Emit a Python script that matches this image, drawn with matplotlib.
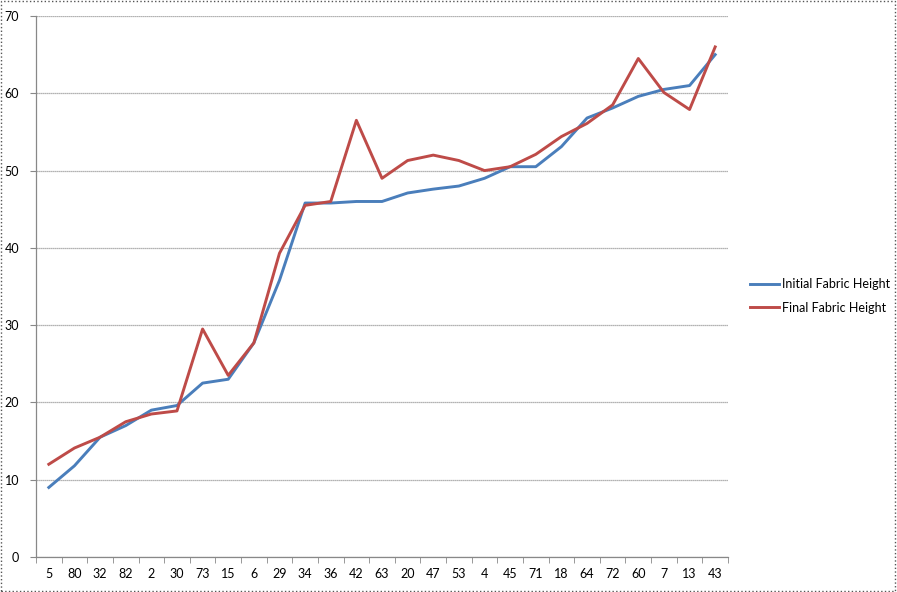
import matplotlib
matplotlib.use('Agg')
import matplotlib.pyplot as plt
from matplotlib.patches import Rectangle

labels = ['5', '80', '32', '82', '2', '30', '73', '15', '6', '29', '34', '36', '42', '63',
          '20', '47', '53', '4', '45', '71', '18', '64', '72', '60', '7', '13', '43']
initial = [9, 11.8, 15.5, 17, 19, 19.6, 22.5, 23, 27.7, 35.8, 45.8, 45.8, 46, 46,
           47.1, 47.6, 48, 49, 50.5, 50.5, 53.1, 56.8, 58.1, 59.6, 60.5, 61, 65]
final = [12, 14.1, 15.5, 17.5, 18.5, 18.9, 29.5, 23.5, 27.7, 39.3, 45.5, 46, 56.5, 49,
         51.3, 52, 51.3, 50, 50.5, 52.1, 54.4, 56.1, 58.5, 64.5, 60.1, 57.9, 66]

plt.rcParams['font.family'] = ['Lato', 'DejaVu Sans']
plt.rcParams['font.size'] = 9

fig = plt.figure(figsize=(8.97, 5.92), dpi=100)
ax = fig.add_axes([36 / 897, 35 / 592, 692 / 897, 541 / 592])

x = list(range(len(labels)))
l1, = ax.plot(x, initial, color='#4A7EBB', lw=2.1, label='Initial Fabric Height')
l2, = ax.plot(x, final, color='#BE4B48', lw=2.1, label='Final Fabric Height')

ax.set_xlim(-0.5, len(labels) - 0.5)
ax.set_ylim(0, 70)
ax.set_yticks(range(0, 71, 10))
ax.set_xticks(x)
ax.set_xticklabels(labels)
ax.set_xticks([i - 0.5 for i in range(len(labels) + 1)], minor=True)
ax.tick_params(axis='x', which='major', length=0, pad=8)
ax.tick_params(axis='x', which='minor', length=4, color='#888888', direction='out')
ax.tick_params(axis='y', length=4, color='#888888', direction='out', pad=8)
ax.grid(axis='y', color='#9a9a9a', lw=0.9, linestyle=(0, (1, 0.6)))
ax.set_axisbelow(True)
for s in ['top', 'right']:
    ax.spines[s].set_visible(False)
for s in ['left', 'bottom']:
    ax.spines[s].set_color('#888888')
    ax.spines[s].set_linewidth(0.9)

fig.legend(handles=[l1, l2], loc='center left', bbox_to_anchor=(739 / 897, 1 - 296 / 592),
           frameon=False, handlelength=2.3, handletextpad=0.2, labelspacing=0.9, fontsize=9)

fig.patches.append(Rectangle((0.001, 0.002), 0.997, 0.996, transform=fig.transFigure,
                             fill=False, edgecolor='#555555', lw=1, linestyle=':'))

fig.savefig('out.png', dpi=100)
